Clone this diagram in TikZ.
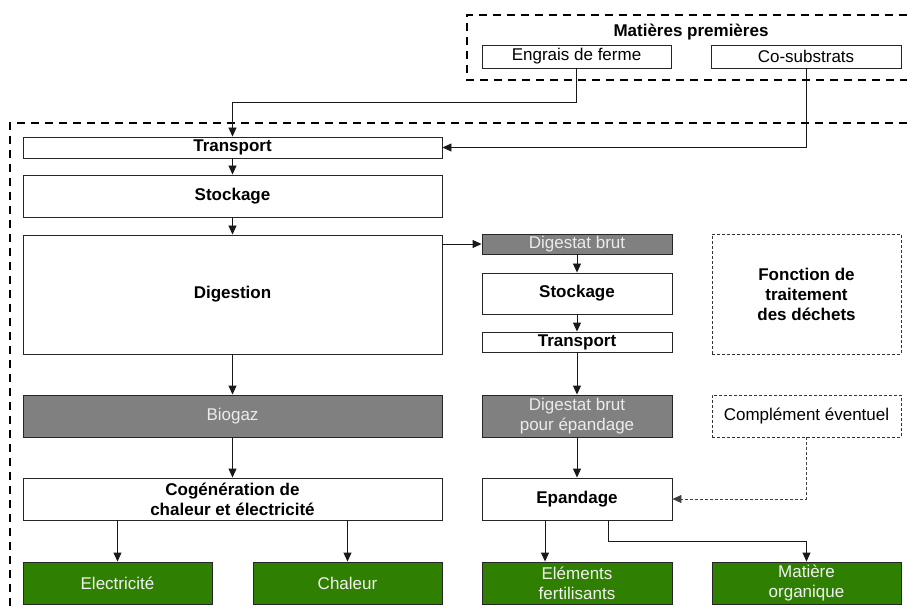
\documentclass[tikz,border=0pt]{standalone}
\usepackage{fontspec}
\setmainfont{Liberation Sans}
\usetikzlibrary{arrows.meta,calc}
\definecolor{gbox}{HTML}{808080}
\definecolor{grn}{HTML}{2F7F00}
\begin{document}
\begin{tikzpicture}[x=1pt,y=1pt,
  base/.style={draw=black!85, line width=0.9pt, inner sep=0pt, align=center,
     font=\fontsize{17}{20}\selectfont},
  wbox/.style={base, fill=white, font=\fontsize{17}{20}\selectfont\bfseries},
  rbox/.style={base, fill=white},
  gybox/.style={base, fill=gbox, text=black!8},
  gnbox/.style={base, fill=grn, text=black!5},
  dbox/.style={draw=black!80, line width=0.8pt, dash pattern=on 3pt off 2pt, inner sep=0pt, align=center, font=\fontsize{17}{20}\selectfont},
  big/.style={line width=2pt, dash pattern=on 8pt off 6pt},
  arr/.style={draw=black!90, line width=0.9pt, -{Triangle[length=9pt,width=8pt]}},
  darr/.style={draw=black!75, line width=0.8pt, dash pattern=on 3pt off 2pt, -{Triangle[length=9pt,width=8pt]}}
]
\useasboundingbox (0,0) rectangle (907,-612);
% dashed frames
\draw[big] (907,-15) -- (467,-15) -- (467,-80) -- (907,-80);
\draw[big] (907,-123) -- (10,-123) -- (10,-612);
\node[font=\fontsize{17}{20}\selectfont\bfseries] (mp) at (691,-32) {Matières premières};
\node[rbox, minimum width=189, minimum height=23] (engrais) at (576.5,-56.5) {Engrais de ferme};
\node[rbox, minimum width=190, minimum height=23] (cosub) at (806,-56.5) {Co-substrats};
% left column
\node[wbox, minimum width=419, minimum height=21] (tr1) at (232.5,-147.5) {Transport};
\node[wbox, minimum width=419, minimum height=42] (st1) at (232.5,-196) {Stockage};
\node[wbox, minimum width=419, minimum height=119] (dig) at (232.5,-294.5) {Digestion};
\node[gybox, minimum width=419, minimum height=42] (bio) at (232.5,-416) {Biogaz};
\node[wbox, minimum width=419, minimum height=42] (cog) at (232.5,-499) {Cogénération de\\chaleur et électricité};
\node[gnbox, minimum width=189, minimum height=42] (elec) at (117.5,-583) {Electricité};
\node[gnbox, minimum width=189, minimum height=42] (chal) at (347.5,-583) {Chaleur};
% middle column
\node[gybox, minimum width=190, minimum height=20] (db) at (577,-244) {Digestat brut};
\node[wbox, minimum width=190, minimum height=41] (st2) at (577,-293.5) {Stockage};
\node[wbox, minimum width=190, minimum height=20] (tr2) at (577,-342) {Transport};
\node[gybox, minimum width=190, minimum height=42] (dbe) at (577,-416) {Digestat brut\\pour épandage};
\node[wbox, minimum width=190, minimum height=42] (ep) at (577,-499) {Epandage};
\node[gnbox, minimum width=190, minimum height=42] (elf) at (577,-583) {Eléments\\fertilisants};
% right column
\node[dbox, minimum width=189, minimum height=120, font=\fontsize{17}{20}\selectfont\bfseries] (fonc) at (806.5,-294) {Fonction de\\traitement\\des déchets};
\node[dbox, minimum width=189, minimum height=42] (comp) at (806.5,-416) {Complément éventuel};
\node[gnbox, minimum width=189, minimum height=42] (mo) at (806.5,-583) {Matière\\organique};
% connectors
\draw[arr] (engrais.south) -- ++(0,-34) -| (tr1.north);
\draw[arr] (cosub.south) |- (tr1.east);
\draw[arr] (tr1) -- (st1);
\draw[arr] (st1) -- (dig);
\draw[arr] (dig) -- (bio);
\draw[arr] (bio) -- (cog);
\draw[arr] (elec.north |- cog.south) -- (elec.north);
\draw[arr] (chal.north |- cog.south) -- (chal.north);
\draw[arr] (dig.east |- db.west) -- (db.west);
\draw[arr] (db) -- (st2);
\draw[arr] (st2) -- (tr2);
\draw[arr] (tr2) -- (dbe);
\draw[arr] (dbe) -- (ep);
\draw[arr] ([xshift=-32pt]ep.south) -- ([xshift=-32pt]elf.north);
\draw[arr] ([xshift=31pt]ep.south) -- ++(0,-21) -| (mo.north);
\draw[darr] (comp.south) |- (ep.east);
\end{tikzpicture}
\end{document}
